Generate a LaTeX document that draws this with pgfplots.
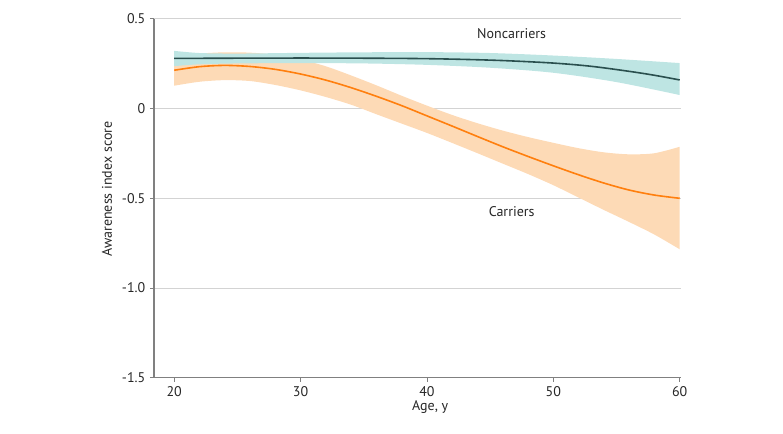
\documentclass[border=0pt]{standalone}
\usepackage{pgfplots}
\pgfplotsset{compat=1.18}
\usepgfplotslibrary{fillbetween}
\usepackage{fontspec}
\setmainfont{PT Sans}
\definecolor{orline}{HTML}{FF7F0E}
\definecolor{orband}{HTML}{FDDAB6}
\definecolor{tline}{HTML}{2A4F4E}
\definecolor{tband}{HTML}{BEE5E3}
\definecolor{gridc}{HTML}{D3D3D3}
\definecolor{axc}{HTML}{808080}
\begin{document}
\begin{tikzpicture}
\begin{axis}[
  scale only axis,
  width=395.25pt, height=269.4pt,
  xmin=18.4, xmax=60.1, ymin=-1.5, ymax=0.5,
  axis x line*=bottom, axis y line*=left,
  axis line style={axc, line width=0.8pt, -},
  xtick={20,30,40,50,60},
  ytick={-1.5,-1,-0.5,0,0.5},
  yticklabels={-1.5,-1.0,-0.5,0,0.5},
  tick style={axc, line width=0.6pt},
  tick align=outside, major tick length=3pt,
  ymajorgrids, grid style={gridc, line width=0.6pt},
  tick label style={font=\fontsize{10.5}{12}\selectfont, text=black!85},
  /pgf/number format/assume math mode=true,
  xlabel={Age, y}, ylabel={Awareness index score},
  label style={font=\fontsize{10.5}{12}\selectfont, text=black!85},
  xlabel style={at={(axis description cs:0.524,-0.082)}, anchor=center},
  ylabel style={at={(axis description cs:-0.089,0.525)}, anchor=center},
]
% Carriers band
\addplot[name path=cu, draw=none, smooth] coordinates {
(20,0.29)(22,0.305)(24,0.312)(26,0.31)(28,0.298)(30,0.272)(32,0.234)(34,0.183)(36,0.128)(38,0.07)(40,0.015)(42,-0.037)(44,-0.083)(46,-0.124)(48,-0.16)(50,-0.192)(52,-0.222)(54,-0.245)(56,-0.256)(58,-0.25)(60,-0.214)};
\addplot[name path=cl, draw=none, smooth] coordinates {
(20,0.126)(22,0.148)(24,0.157)(26,0.152)(28,0.13)(30,0.1)(32,0.063)(34,0.02)(36,-0.033)(38,-0.085)(40,-0.137)(42,-0.193)(44,-0.25)(46,-0.308)(48,-0.366)(50,-0.428)(52,-0.497)(54,-0.566)(56,-0.633)(58,-0.703)(60,-0.785)};
\addplot[orband, draw=none] fill between[of=cu and cl];
% Noncarriers band
\addplot[name path=nu, draw=none, smooth] coordinates {
(20,0.32)(22,0.308)(25,0.305)(30,0.309)(35,0.312)(40,0.313)(45,0.308)(50,0.294)(55,0.275)(60,0.252)};
\addplot[name path=nl, draw=none, smooth] coordinates {
(20,0.235)(22,0.245)(25,0.25)(30,0.252)(35,0.25)(40,0.242)(45,0.226)(50,0.198)(55,0.146)(60,0.074)};
\addplot[tband, draw=none] fill between[of=nu and nl];
% Lines
\addplot[tline, line width=1.2pt, smooth] coordinates {
(20,0.278)(30,0.28)(38,0.278)(42,0.274)(46,0.266)(50,0.252)(53,0.234)(56,0.206)(58,0.184)(60,0.158)};
\addplot[orline, line width=1.2pt, smooth] coordinates {
(20,0.212)(22,0.232)(24,0.239)(26,0.233)(28,0.217)(30,0.191)(32,0.157)(34,0.115)(36,0.067)(38,0.015)(40,-0.042)(42,-0.099)(44,-0.157)(46,-0.214)(48,-0.268)(50,-0.32)(52,-0.37)(54,-0.416)(56,-0.455)(58,-0.483)(60,-0.501)};
\node[font=\fontsize{10.5}{12}\selectfont, text=black!85] at (axis cs:46.7,0.414) {Noncarriers};
\node[font=\fontsize{10.5}{12}\selectfont, text=black!85] at (axis cs:46.7,-0.576) {Carriers};
\end{axis}
\pgfresetboundingbox
\useasboundingbox (-115.5pt,-41.5pt) rectangle (471.75pt,283.3pt);
\end{tikzpicture}
\end{document}
